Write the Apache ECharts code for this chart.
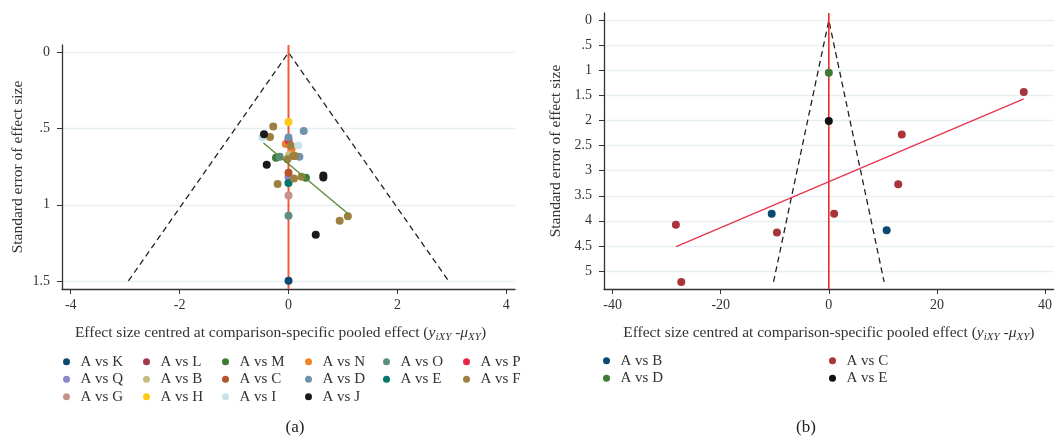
<!DOCTYPE html>
<html>
<head>
<meta charset="utf-8">
<script src="https://cdn.jsdelivr.net/npm/echarts@6/dist/echarts.min.js"></script>
<style>
  html, body { margin: 0; padding: 0; background: #fff; }
  #chart { width: 1055px; height: 438px; }
</style>
</head>
<body>
<div id="chart"></div>
<script>
// panel (a): comparisons and points [centred effect, standard error]
var namesA = ["A vs K", "A vs L", "A vs M", "A vs N", "A vs O", "A vs P", "A vs Q", "A vs B",
  "A vs C", "A vs D", "A vs E", "A vs F", "A vs G", "A vs H", "A vs I", "A vs J"];
var colorsA = ["#0b4a6f", "#a23a48", "#3e7b35", "#f0822a", "#5b9080", "#e8264a", "#8b87c8", "#c8bd80",
  "#b5532b", "#6e93ad", "#00776a", "#9c8040", "#c9928c", "#ffc814", "#c9e2ea", "#1a1a1a"];
var pointsA = [
  [[0, 1.498]],
  [],
  [[-0.23, 0.69], [0.32, 0.822]],
  [[-0.05, 0.6], [0.06, 0.634]],
  [[0, 1.072], [-0.16, 0.684]],
  [[0, 0.575]],
  [[0, 0.818]],
  [[0.01, 0.672]],
  [[0, 0.79]],
  [[0.28, 0.515], [0, 0.557], [0.2, 0.684]],
  [[0, 0.857]],
  [[-0.28, 0.485], [-0.34, 0.555], [0.04, 0.61], [0.09, 0.68], [0.12, 0.68], [-0.02, 0.7],
   [0.1, 0.827], [0.24, 0.816], [-0.2, 0.864], [1.09, 1.075], [0.94, 1.105]],
  [[0, 0.939]],
  [[0, 0.456]],
  [[-0.48, 0.557], [0.18, 0.61]],
  [[-0.45, 0.537], [-0.4, 0.737], [0.64, 0.807], [0.64, 0.82], [0.5, 1.197]]
];
var fitA = [[-0.46, 0.594], [1.1, 1.061]];
var funnelA = [[-2.94, 1.5], [0, 0], [2.94, 1.5]];
var xTicksA = [-4, -2, 0, 2, 4];
var yTicksA = [0, 0.5, 1, 1.5];

// panel (b)
var namesB = ["A vs B", "A vs C", "A vs D", "A vs E"];
var colorsB = ["#0b4a6f", "#a83339", "#3e7b35", "#111111"];
var pointsB = [
  [[-10.57, 3.86], [10.7, 4.19]],
  [[36.07, 1.43], [13.5, 2.28], [12.84, 3.27], [0.98, 3.86], [-28.3, 4.08], [-9.6, 4.235], [-27.3, 5.22]],
  [[0, 1.044]],
  [[0, 2.008]]
];
var fitB = [[-28.26, 4.515], [36.07, 1.569]];
var funnelB = [[-10.23, 5.22], [0, 0], [10.23, 5.22]];
var xTicksB = [-40, -20, 0, 20, 40];
var yTicksB = [0, 0.5, 1, 1.5, 2, 2.5, 3, 3.5, 4, 4.5, 5];

var font = "Liberation Serif";
var txt = "#333";

function seLabel(v) {
  var s = String(v);
  return s.indexOf("0.") === 0 ? s.slice(1) : s;
}

var xName = "Effect size centred at comparison-specific pooled effect ({i|y}{s|iXY} {i|-μ}{s|XY})";
function xNameStyle(pad) {
  return {
    fontFamily: font, fontSize: 15.5, color: txt, lineHeight: 20, padding: pad,
    rich: {
      i: { fontFamily: font, fontStyle: "italic", fontSize: 15.5, color: txt, lineHeight: 20 },
      s: { fontFamily: font, fontStyle: "italic", fontSize: 11, color: txt, lineHeight: 11, verticalAlign: "bottom" }
    }
  };
}

function xAxisDef(idx, min, max, ticks, pad) {
  return {
    gridIndex: idx, type: "value", min: min, max: max,
    name: xName, nameLocation: "middle", nameGap: 34, nameTextStyle: xNameStyle(pad),
    axisLine: { onZero: false, lineStyle: { color: "#333", width: 1.3 } },
    axisTick: { length: 5, customValues: ticks, lineStyle: { color: "#333" } },
    axisLabel: { customValues: ticks, fontFamily: font, fontSize: 14, color: txt, margin: 9 },
    splitLine: { show: false }
  };
}
function yAxisDef(idx, min, max, ticks, gap) {
  return {
    gridIndex: idx, type: "value", inverse: true, min: min, max: max,
    name: "Standard error of effect size", nameLocation: "middle", nameGap: gap,
    nameTextStyle: { fontFamily: font, fontSize: 15.5, color: txt },
    axisLine: { show: true, onZero: false, lineStyle: { color: "#333", width: 1.3 } },
    axisTick: { length: 5, customValues: ticks, lineStyle: { color: "#333" } },
    axisLabel: { customValues: ticks, formatter: seLabel, fontFamily: font, fontSize: 14, color: txt, margin: 12 },
    splitLine: { show: true, lineStyle: { color: "#e6f0f2", width: 1.3 } }
  };
}

var series = [];
function guide(idx, data, color, width, type, z) {
  series.push({
    type: "line", xAxisIndex: idx, yAxisIndex: idx, data: data, symbol: "none", silent: true,
    lineStyle: { color: color, width: width, type: type }, z: z, animation: false
  });
}
guide(0, funnelA, "#222", 1.3, [6, 4], 1);
guide(0, [[0, -0.05], [0, 1.553]], "#f05a3c", 2, "solid", 2);
guide(1, funnelB, "#222", 1.3, [6, 4], 1);
guide(1, [[0, -0.146], [0, 5.36]], "#e8201a", 1.5, "solid", 2);

namesA.forEach(function(n, i) {
  series.push({ name: n, type: "scatter", xAxisIndex: 0, yAxisIndex: 0, data: pointsA[i],
    symbolSize: 8, itemStyle: { color: colorsA[i], opacity: 1 }, z: 3, animation: false });
});
namesB.forEach(function(n, i) {
  series.push({ name: "b:" + n, type: "scatter", xAxisIndex: 1, yAxisIndex: 1, data: pointsB[i],
    symbolSize: 8, itemStyle: { color: colorsB[i], opacity: 1 }, z: 3, animation: false });
});
guide(0, fitA, "#5a8a3a", 1.3, "solid", 4);
guide(1, fitB, "#e8344e", 1.3, "solid", 4);

function legendCol(left, top, data, fmt) {
  return {
    orient: "vertical", left: left, top: top, data: data, icon: "circle",
    itemWidth: 18, itemHeight: 7, itemGap: 0, selectedMode: false,
    formatter: fmt,
    textStyle: { fontFamily: font, fontSize: 15, color: txt, lineHeight: 17.5 }
  };
}
var colLeftA = [58, 138, 217, 300, 378, 458];
var legends = colLeftA.map(function(l, c) {
  var d = [];
  for (var r = c; r < namesA.length; r += 6) d.push(namesA[r]);
  return legendCol(l, 348, d);
});
var stripB = function(n) { return n.slice(2); };
legends.push(legendCol(598, 347, ["b:A vs B", "b:A vs D"], stripB));
legends.push(legendCol(824, 347, ["b:A vs C", "b:A vs E"], stripB));

var chart = echarts.init(document.getElementById("chart"));
chart.setOption({
  backgroundColor: "#fff",
  animation: false,
  title: [
    { text: "(a)", left: 290, top: 414, textAlign: "center",
      textStyle: { fontFamily: font, fontSize: 17, fontWeight: "normal", color: "#222" } },
    { text: "(b)", left: 801, top: 414, textAlign: "center",
      textStyle: { fontFamily: font, fontSize: 17, fontWeight: "normal", color: "#222" } }
  ],
  grid: [
    { left: 62, top: 45, width: 453, height: 244 },
    { left: 604, top: 13, right: 0, height: 276 }
  ],
  xAxis: [xAxisDef(0, -4.16, 4.16, xTicksA, [0, 16, 0, 0]), xAxisDef(1, -41.6, 41.6, xTicksB, 0)],
  yAxis: [yAxisDef(0, -0.05, 1.553, yTicksA, 36), yAxisDef(1, -0.146, 5.36, yTicksB, 40)],
  legend: legends,
  series: series
});
</script>
</body>
</html>
